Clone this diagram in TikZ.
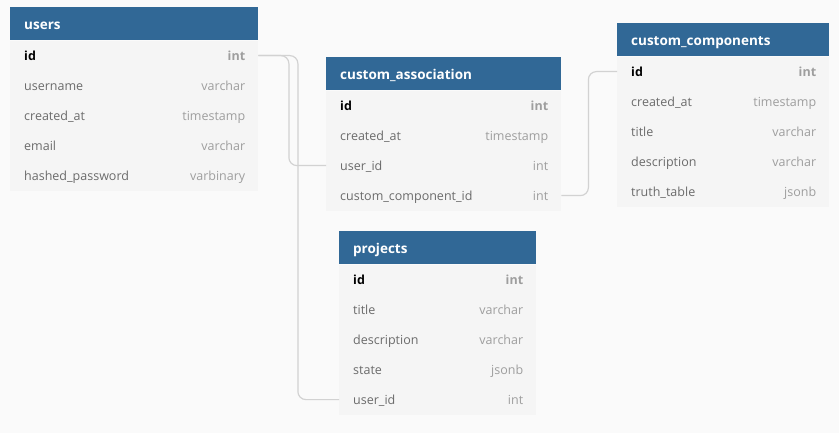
\documentclass[tikz,border=0pt]{standalone}
\usepackage{fontspec}
\setmainfont{Open Sans}
\usetikzlibrary{calc}
\definecolor{bgc}{HTML}{FAFAFA}
\definecolor{hdrc}{HTML}{316896}
\definecolor{bodyc}{HTML}{F5F5F5}
\definecolor{namec}{HTML}{6B6B6B}
\definecolor{typec}{HTML}{9E9E9E}
\definecolor{linec}{HTML}{D2D2D2}
\tikzset{
  hdr/.style={fill=hdrc,text=white,minimum height=33pt,inner sep=0pt,
    text height=13pt,text depth=2pt,
    font=\fontsize{13.5}{16}\selectfont\bfseries,text width=#1-28pt,align=left},
  rowbox/.style={fill=bodyc,minimum height=30pt,inner sep=0pt},
  fname/.style={text=namec,inner sep=0pt,text height=12pt,text depth=3pt,font=\fontsize{12.5}{15}\selectfont},
  ftype/.style={text=typec,inner sep=0pt,text height=12pt,text depth=3pt,font=\fontsize{12.5}{15}\selectfont},
  conn/.style={draw=linec,line width=1.2pt,rounded corners=8pt}
}
\newcommand\dbtable[6]{%
  \node[hdr=#4,minimum width=#4,anchor=north west] (#1) at (#2,#3) {#5};
  \foreach \f/\t [count=\i] in {#6} {
    \node[rowbox,minimum width=#4,anchor=north west] (#1-\i) at ($(#1.south west)+(0,{(\i-1)*30})$) {};
    \node[fname,anchor=west] at ([xshift=14pt]#1-\i.west) {\f};
    \node[ftype,anchor=east] at ([xshift=-13pt]#1-\i.east) {\t};
  }
}
\begin{document}
\begin{tikzpicture}[x=1pt,y=-1pt]
\fill[bgc] (0,0) rectangle (839,433);
\useasboundingbox (0,0) rectangle (839,433);
\dbtable{users}{10}{7}{248pt}{users}{{\color{black}\bfseries id}/{\bfseries int},username/varchar,created\_at/timestamp,email/varchar,hashed\_password/varbinary}
\dbtable{ca}{326}{57}{235pt}{custom\_association}{{\color{black}\bfseries id}/{\bfseries int},created\_at/timestamp,user\_id/int,custom\_component\_id/int}
\dbtable{cc}{617}{23}{212pt}{custom\_components}{{\color{black}\bfseries id}/{\bfseries int},created\_at/timestamp,title/varchar,description/varchar,truth\_table/jsonb}
\dbtable{pr}{339}{231}{197pt}{projects}{{\color{black}\bfseries id}/{\bfseries int},title/varchar,description/varchar,state/jsonb,user\_id/int}
\draw[conn] (users-1.east) -- ++(30.5,0) |- (ca-3.west);
\draw[conn] (users-1.east) -- ++(39.5,0) |- (pr-5.west);
\draw[conn] (ca-4.east) -- ++(27,0) |- (cc-1.west);
\end{tikzpicture}
\end{document}
